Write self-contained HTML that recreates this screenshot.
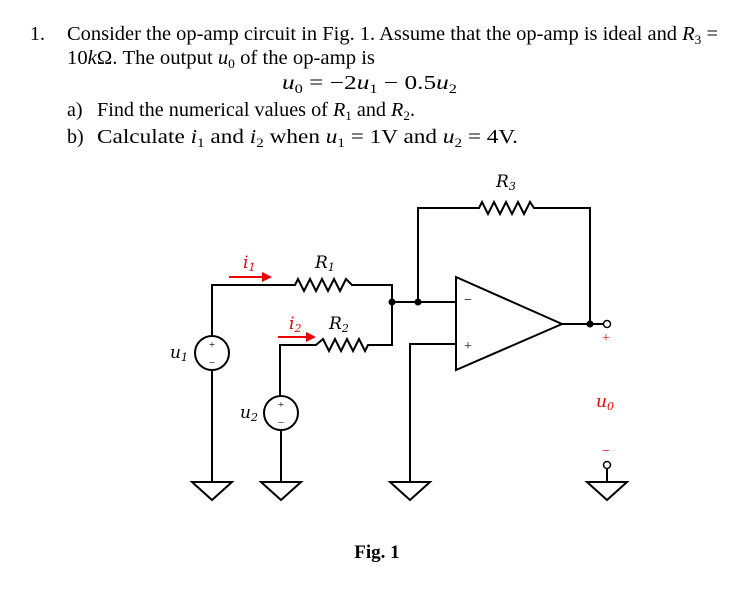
<!DOCTYPE html>
<html><head><meta charset="utf-8"><style>html,body{margin:0;padding:0;background:#fff}svg{display:block}</style></head>
<body>
<svg width="743" height="589" viewBox="0 0 743 589" xmlns="http://www.w3.org/2000/svg" font-family="'Liberation Serif', serif">
<g font-size="20" fill="#000">
<text x="30" y="40">1.</text>
<text x="67" y="40" textLength="651" lengthAdjust="spacingAndGlyphs">Consider the op-amp circuit in Fig. 1. Assume that the op-amp is ideal and <tspan font-style="italic">R</tspan><tspan font-size="13" dy="4">3</tspan><tspan dy="-4"> =</tspan></text>
<text x="67" y="64" textLength="308" lengthAdjust="spacingAndGlyphs">10<tspan font-style="italic">k</tspan>Ω. The output <tspan font-style="italic">u</tspan><tspan font-size="13" dy="4">0</tspan><tspan dy="-4">  of the op-amp is</tspan></text>
<text x="282" y="89" textLength="175" lengthAdjust="spacingAndGlyphs"><tspan font-style="italic">u</tspan><tspan font-size="13" dy="4">0</tspan><tspan dy="-4"> = −2</tspan><tspan font-style="italic">u</tspan><tspan font-size="13" dy="4">1</tspan><tspan dy="-4"> − 0.5</tspan><tspan font-style="italic">u</tspan><tspan font-size="13" dy="4">2</tspan></text>
<text x="67" y="116">a)</text>
<text x="97" y="116" textLength="318" lengthAdjust="spacingAndGlyphs">Find the numerical values of <tspan font-style="italic">R</tspan><tspan font-size="13" dy="4">1</tspan><tspan dy="-4">  and </tspan><tspan font-style="italic">R</tspan><tspan font-size="13" dy="4">2</tspan><tspan dy="-4">.</tspan></text>
<text x="67" y="143">b)</text>
<text x="97" y="143" textLength="421" lengthAdjust="spacingAndGlyphs">Calculate <tspan font-style="italic">i</tspan><tspan font-size="13" dy="4">1</tspan><tspan dy="-4">  and </tspan><tspan font-style="italic">i</tspan><tspan font-size="13" dy="4">2</tspan><tspan dy="-4">  when </tspan><tspan font-style="italic">u</tspan><tspan font-size="13" dy="4">1</tspan><tspan dy="-4"> = 1V and </tspan><tspan font-style="italic">u</tspan><tspan font-size="13" dy="4">2</tspan><tspan dy="-4"> = 4V.</tspan></text>
</g>
<g stroke="#000" stroke-width="2" fill="none" stroke-linejoin="miter">
<polyline points="418,302 418,208 479,208 482,202 488,214 494,202 500,214 506,202 512,214 518,202 524,214 530,202 534,208 590,208 590,324"/>
<polygon points="456,277 456,370 562,324"/>
<line x1="562" y1="324" x2="603" y2="324"/>
<line x1="392" y1="302" x2="456" y2="302"/>
<polyline points="456,344 410,344 410,482"/>
<polyline points="212,336 212,285 295,285 298,279 304,291 310,279 316,291 322,279 328,291 334,279 340,291 346,279 352,285 392,285 392,345 368,345 365,351 359,339 353,351 347,339 341,351 335,339 329,351 323,339 316,345 280,345 280,396"/>
<circle cx="212" cy="353" r="17"/>
<line x1="212" y1="370" x2="212" y2="482"/>
<circle cx="281" cy="413" r="17"/>
<line x1="281" y1="430" x2="281" y2="482"/>
<polygon points="192,482 232,482 212,500"/>
<polygon points="261,482 301,482 281,500"/>
<polygon points="390,482 430,482 410,500"/>
<polygon points="587,482 627,482 607,500"/>
<line x1="607" y1="469" x2="607" y2="482"/>
</g>
<g fill="#000">
<circle cx="392" cy="302" r="3.5"/><circle cx="418" cy="302" r="3.5"/><circle cx="590" cy="324" r="3.5"/>
</g>
<circle cx="607" cy="324" r="3.5" fill="#fff" stroke="#000" stroke-width="1.5"/>
<circle cx="607" cy="465" r="3.5" fill="#fff" stroke="#000" stroke-width="1.5"/>
<g font-size="11" fill="#000" text-anchor="middle">
<text x="212" y="348">+</text><text x="212" y="366">−</text>
<text x="281" y="408">+</text><text x="281" y="426">−</text>
</g>
<text x="468" y="304" font-size="14" text-anchor="middle">−</text>
<text x="468" y="350" font-size="14" text-anchor="middle">+</text>
<g stroke="#e00" stroke-width="2" fill="#e00">
<line x1="229" y1="277" x2="264" y2="277"/><polygon points="272,277 262,272 262,282" stroke="none"/>
<line x1="278" y1="337" x2="308" y2="337"/><polygon points="316,337 306,332 306,342" stroke="none"/>
</g>
<g font-family="'DejaVu Serif', serif" font-style="italic" font-size="17">
<text x="243" y="268" fill="#e00">i<tspan font-size="11" dy="3">1</tspan></text>
<text x="289" y="329" fill="#e00">i<tspan font-size="11" dy="3">2</tspan></text>
<text x="315" y="268">R<tspan font-size="11" dy="3">1</tspan></text>
<text x="329" y="329">R<tspan font-size="11" dy="3">2</tspan></text>
<text x="496" y="187">R<tspan font-size="11" dy="3">3</tspan></text>
<text x="170" y="358">u<tspan font-size="11" dy="3">1</tspan></text>
<text x="240" y="418">u<tspan font-size="11" dy="3">2</tspan></text>
<text x="596" y="407" fill="#e00">u<tspan font-size="11" dy="3">0</tspan></text>
</g>
<text x="606" y="342" font-size="14" fill="#e00" text-anchor="middle">+</text>
<text x="606" y="455" font-size="14" fill="#e00" text-anchor="middle">−</text>
<text x="377" y="558" font-size="19" font-weight="bold" text-anchor="middle">Fig. 1</text>
</svg>
</body></html>
